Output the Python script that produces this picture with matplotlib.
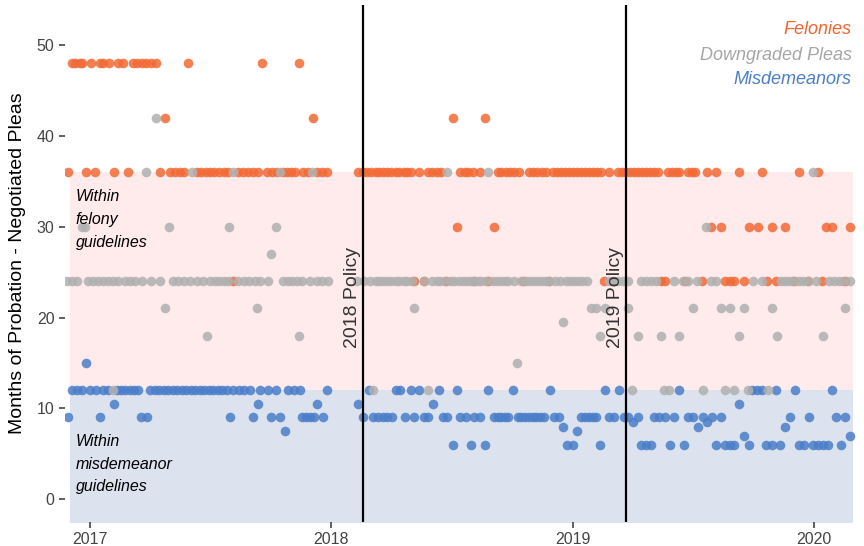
import matplotlib
matplotlib.use("Agg")
import matplotlib.pyplot as plt

plt.rcParams['font.family'] = ['Liberation Sans', 'DejaVu Sans']

# dates as decimal years, grouped by months of probation
felonies = {
    48: [2016.925, 2016.938, 2016.959, 2016.967, 2017.004, 2017.041, 2017.054, 2017.079,
         2017.116, 2017.137, 2017.178, 2017.195, 2017.216, 2017.232, 2017.253, 2017.274,
         2017.407, 2017.714, 2017.867],
    42: [2017.311, 2017.925, 2018.502, 2018.635],
    36: [2016.909, 2016.983, 2017.021, 2017.100, 2017.158, 2017.290, 2017.332, 2017.353,
         2017.373, 2017.390, 2017.444, 2017.461, 2017.481, 2017.498, 2017.515, 2017.535,
         2017.556, 2017.573, 2017.614, 2017.635, 2017.656, 2017.676, 2017.697, 2017.734,
         2017.755, 2017.776, 2017.801, 2017.817, 2017.834, 2017.851, 2017.884, 2017.905,
         2017.942, 2017.963, 2017.983, 2018.112,
         2018.133, 2018.149, 2018.166, 2018.183, 2018.199, 2018.216, 2018.232, 2018.249,
         2018.266, 2018.282, 2018.299, 2018.315, 2018.332, 2018.365, 2018.402, 2018.419,
         2018.436, 2018.456, 2018.535, 2018.552, 2018.568, 2018.585, 2018.614, 2018.689,
         2018.705, 2018.722, 2018.739, 2018.755, 2018.776, 2018.817, 2018.834, 2018.851,
         2018.871, 2018.888, 2018.917, 2018.934, 2018.950, 2018.967, 2018.983, 2019.000,
         2019.017, 2019.033, 2019.050, 2019.066, 2019.083, 2019.100, 2019.116, 2019.149,
         2019.187, 2019.203, 2019.220, 2019.237, 2019.253, 2019.270, 2019.286, 2019.303,
         2019.320, 2019.336, 2019.353, 2019.394, 2019.411, 2019.427, 2019.440, 2019.477,
         2019.494, 2019.506, 2019.556, 2019.593, 2019.689, 2019.784, 2019.938, 2020.017],
    30: [2018.519, 2018.672, 2019.573, 2019.614, 2019.730, 2019.768, 2019.826, 2019.880,
         2020.050, 2020.075, 2020.149],
    24: [2017.593, 2018.344, 2018.382, 2018.477, 2018.593, 2018.651, 2018.793, 2018.900,
         2019.129, 2019.365, 2019.382, 2019.465, 2019.535, 2019.631, 2019.651, 2019.668,
         2019.710, 2019.805, 2019.842, 2019.917, 2019.975, 2020.033, 2020.129],
}

downgraded = {
    42: [2017.274],
    36: [2017.232, 2017.423, 2017.593, 2017.788, 2017.921, 2018.481, 2018.651, 2019.996],
    30: [2016.967, 2016.979, 2017.328, 2017.577, 2017.772, 2019.552],
    27: [2017.751],
    24: [2016.905, 2016.925, 2016.946, 2016.992, 2017.012, 2017.033, 2017.054, 2017.075,
         2017.095, 2017.116, 2017.145, 2017.166, 2017.187, 2017.216, 2017.253, 2017.290,
         2017.344, 2017.365, 2017.390, 2017.415, 2017.444, 2017.469, 2017.498, 2017.519,
         2017.535, 2017.556, 2017.573, 2017.614, 2017.639, 2017.660, 2017.685, 2017.705,
         2017.739, 2017.801, 2017.822, 2017.838, 2017.859, 2017.880, 2017.913, 2017.942,
         2017.963, 2017.988, 2018.108,
         2018.137, 2018.158, 2018.183, 2018.199, 2018.216, 2018.232, 2018.249, 2018.266,
         2018.282, 2018.299, 2018.315, 2018.336, 2018.382, 2018.419, 2018.436, 2018.452,
         2018.469, 2018.494, 2018.510, 2018.527, 2018.544, 2018.560, 2018.577, 2018.593,
         2018.606, 2018.622, 2018.639, 2018.668, 2018.685, 2018.701, 2018.718, 2018.734,
         2018.755, 2018.784, 2018.805, 2018.822, 2018.838, 2018.855, 2018.871, 2018.888,
         2018.900, 2018.925, 2018.946, 2018.971, 2018.988, 2019.004, 2019.021, 2019.037,
         2019.058, 2019.149, 2019.166, 2019.187, 2019.207, 2019.228,
         2019.282, 2019.303, 2019.324, 2019.344, 2019.419, 2019.456, 2019.477, 2019.515,
         2019.573, 2019.593, 2019.747, 2019.784, 2019.863, 2019.880, 2019.896, 2019.913,
         2019.938, 2019.954, 2019.975, 2020.008, 2020.062, 2020.083, 2020.104, 2020.120,
         2020.149],
    21: [2017.311, 2017.693, 2018.344, 2019.075, 2019.095, 2019.133, 2019.228, 2019.498,
         2019.614, 2019.651, 2019.710, 2019.826, 2020.129],
    19.5: [2018.959],
    18: [2017.485, 2017.867, 2019.112, 2019.270, 2019.365, 2019.440, 2019.689, 2019.846,
         2020.037],
    15: [2018.768],
    12: [2017.095, 2018.174, 2018.402, 2019.245, 2019.378, 2019.398, 2019.539, 2019.631,
         2019.668, 2019.726, 2019.809],
}

misdemeanors = {
    15: [2016.983],
    12: [2016.925, 2016.946, 2016.967, 2017.000, 2017.025, 2017.054, 2017.075, 2017.112,
         2017.129, 2017.145, 2017.166, 2017.183, 2017.199, 2017.249, 2017.270, 2017.286,
         2017.307, 2017.324, 2017.344, 2017.361, 2017.382, 2017.398, 2017.419, 2017.436,
         2017.456, 2017.473, 2017.494, 2017.510, 2017.531, 2017.548, 2017.568, 2017.593,
         2017.618, 2017.639, 2017.664, 2017.705, 2017.739, 2017.772, 2017.822, 2017.846,
         2017.871, 2017.983,
         2018.154, 2018.266, 2018.286, 2018.328, 2018.365, 2018.444, 2018.519, 2018.651,
         2018.751, 2018.905, 2019.133, 2019.191, 2019.440, 2019.743, 2019.763, 2019.784,
         2019.842, 2019.921, 2020.075],
    10.5: [2017.100, 2017.697, 2017.942, 2018.112, 2018.423, 2019.689],
    9: [2016.909, 2017.041, 2017.212, 2017.237, 2017.581, 2017.676, 2017.751, 2017.788,
        2017.880, 2017.896, 2017.913, 2017.929, 2017.967,
        2018.133, 2018.174, 2018.195, 2018.212, 2018.232, 2018.253, 2018.307, 2018.344,
        2018.382, 2018.402, 2018.461, 2018.481, 2018.535, 2018.556, 2018.593, 2018.614,
        2018.672, 2018.689, 2018.705, 2018.718, 2018.730, 2018.772, 2018.784, 2018.801,
        2018.817, 2018.834, 2018.846, 2018.863, 2018.880, 2018.921, 2018.942, 2019.033,
        2019.050, 2019.066, 2019.083, 2019.095, 2019.149, 2019.170, 2019.212, 2019.228,
        2019.270, 2019.336, 2019.357, 2019.382, 2019.419, 2019.477, 2019.498, 2019.539,
        2019.577, 2019.614, 2019.900, 2019.979, 2020.091, 2020.129],
    8.5: [2019.249, 2019.556],
    8: [2018.959, 2019.519, 2019.880],
    7.5: [2017.809, 2019.017],
    7: [2019.710, 2020.149],
    6: [2018.502, 2018.577, 2018.635, 2018.975, 2019.000, 2019.112, 2019.282, 2019.303,
        2019.324, 2019.402, 2019.461, 2019.593, 2019.631, 2019.651, 2019.668, 2019.730,
        2019.801, 2019.826, 2019.859, 2019.938, 2019.959, 2019.996, 2020.017, 2020.037,
        2020.058, 2020.112],
}

policies = [(2018.129, '2018 Policy'), (2019.220, '2019 Policy')]
year_ticks = [2017, 2018, 2019, 2020]

c_fel = '#F26A35'
c_down = '#B0B0B0'
c_mis = '#4A7EC9'


def flatten(groups):
    xs, ys = [], []
    for months, dates in groups.items():
        xs += dates
        ys += [months] * len(dates)
    return xs, ys


fig = plt.figure(figsize=(8.64, 5.46), dpi=100)
ax = fig.add_axes([0.0752, 0.044, 0.9144, 0.947])

x0, x1 = 2016.917, 2020.162
ax.fill_between([x0, x1], 12, 36, color='#FFEBEC', lw=0, zorder=0)
ax.fill_between([x0, x1], -5, 12, color='#DCE3EE', lw=0, zorder=0)

for groups, col in [(felonies, c_fel), (misdemeanors, c_mis), (downgraded, c_down)]:
    xs, ys = flatten(groups)
    ax.scatter(xs, ys, s=48, color=col, alpha=0.85, linewidths=0, zorder=3)

for xp, lab in policies:
    ax.axvline(xp, color='black', lw=1.6, zorder=4)
    ax.text(xp - 0.006, 22.2, lab, rotation=90, ha='right', va='center',
            fontsize=14, color='#333333', zorder=5)

ax.text(2016.94, 34.1, 'Within\nfelony\nguidelines', style='italic', fontsize=11.5,
        va='top', ha='left', linespacing=1.65, zorder=5)
ax.text(2016.94, 7.2, 'Within\nmisdemeanor\nguidelines', style='italic', fontsize=11.5,
        va='top', ha='left', linespacing=1.65, zorder=5)

ax.text(0.996, 0.952, 'Felonies', transform=ax.transAxes, ha='right', va='center',
        style='italic', fontsize=13, color='#F2642E')
ax.text(0.996, 0.903, 'Downgraded Pleas', transform=ax.transAxes, ha='right', va='center',
        style='italic', fontsize=13, color='#A6A6A6')
ax.text(0.996, 0.855, 'Misdemeanors', transform=ax.transAxes, ha='right', va='center',
        style='italic', fontsize=13, color=c_mis)

ax.set_xlim(2016.896, 2020.17)
ax.set_ylim(-2.5, 54.4)
ax.set_xticks(year_ticks)
ax.set_xticklabels([str(y) for y in year_ticks])
ax.set_yticks(range(0, 51, 10))
ax.tick_params(axis='both', colors='#444444', labelsize=11.5, length=4, width=1.2)
for sp in ax.spines.values():
    sp.set_visible(False)
ax.set_ylabel('Months of Probation - Negotiated Pleas', fontsize=14, labelpad=8)

fig.savefig('out.png', dpi=100)
